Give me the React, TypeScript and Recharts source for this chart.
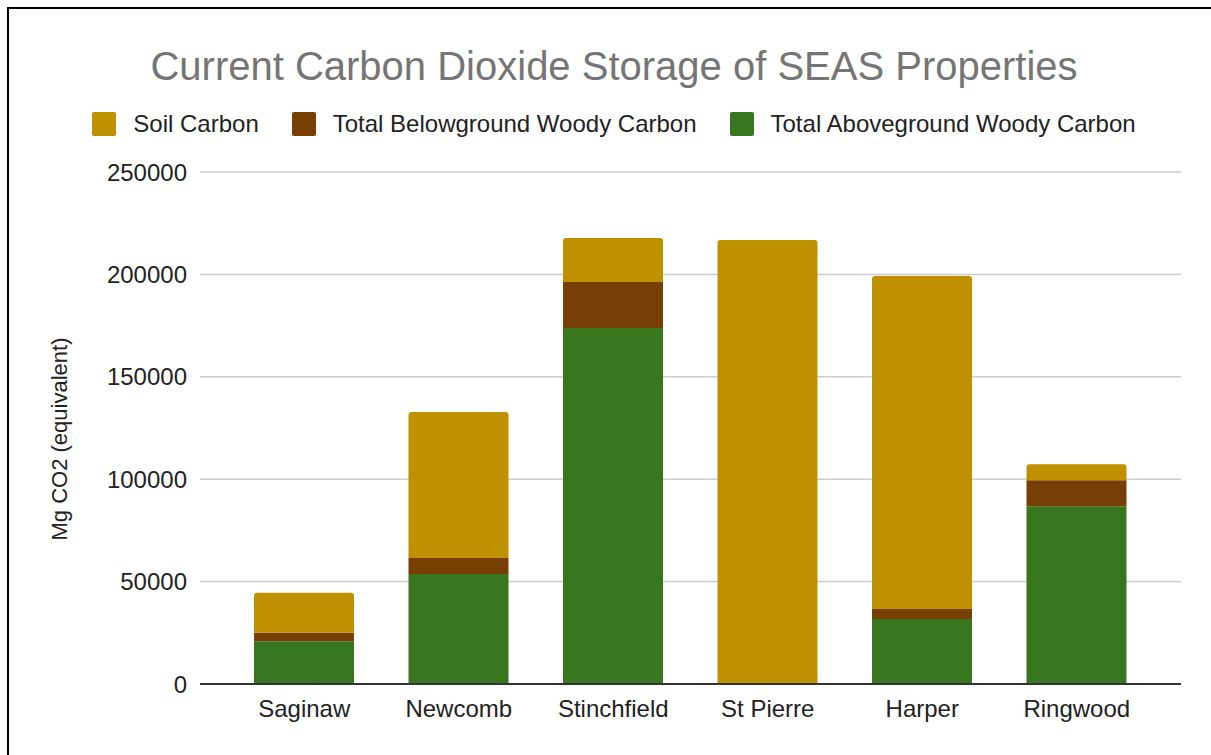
import React from "react";
import { BarChart, Bar, XAxis, YAxis, CartesianGrid, Label } from "recharts";

const properties = ["Saginaw", "Newcomb", "Stinchfield", "St Pierre", "Harper", "Ringwood"];
const aboveground = [20900, 53700, 173800, 0, 31700, 86800];
const belowground = [4100, 7800, 22500, 0, 4900, 12700];
const soil = [19600, 71300, 21500, 216800, 162600, 7800];
const yTicks = [0, 50000, 100000, 150000, 200000, 250000];

const FONT = "'Liberation Sans', Arial, sans-serif";

// legend order differs from stacking order, so list it separately
const legendItems = [
  { name: "Soil Carbon", color: "#bf9000" },
  { name: "Total Belowground Woody Carbon", color: "#783f04" },
  { name: "Total Aboveground Woody Carbon", color: "#38761d" },
];

const data = properties.map((p, i) => ({
  name: p,
  above: aboveground[i],
  below: belowground[i],
  soil: soil[i],
}));

function YLabel(props: any) {
  const vb = props.viewBox || {};
  const x = 50;
  const y = vb.y + vb.height / 2 + 11;
  return (
    <text
      x={x}
      y={y}
      transform={`rotate(-90 ${x} ${y})`}
      textAnchor="middle"
      dominantBaseline="central"
      fill="#222"
      fontSize={22}
      fontFamily={FONT}
    >
      Mg CO2 (equivalent)
    </text>
  );
}

export default function App() {
  return (
    <div
      style={{
        position: "absolute",
        left: 7,
        top: 7,
        width: 1204,
        height: 748,
        boxSizing: "border-box",
        borderTop: "2px solid #000",
        borderLeft: "2px solid #000",
        overflow: "hidden",
        fontFamily: FONT,
        background: "#fff",
      }}
    >
      <div
        style={{
          position: "absolute",
          left: 0,
          width: 1210,
          top: 34,
          textAlign: "center",
          fontSize: 40,
          color: "#757575",
          lineHeight: "46px",
        }}
      >
        Current Carbon Dioxide Storage of SEAS Properties
      </div>
      <div
        style={{
          position: "absolute",
          left: 0,
          width: 1210,
          top: 103,
          height: 24,
          display: "flex",
          justifyContent: "center",
          alignItems: "center",
          fontSize: 24,
          color: "#222",
        }}
      >
        {legendItems.map((it, i) => (
          <div key={it.name} style={{ display: "flex", alignItems: "center", marginLeft: i === 0 ? 0 : 33 }}>
            <span style={{ width: 24, height: 24, borderRadius: 2, background: it.color, display: "inline-block", marginRight: 17 }} />
            <span>{it.name}</span>
          </div>
        ))}
      </div>
      <div style={{ position: "absolute", left: 0, top: 0 }}>
        <BarChart
          width={1202}
          height={746}
          data={data}
          margin={{ top: 163, right: 30, bottom: 41, left: 91 }}
          barSize={100}
        >
          <CartesianGrid vertical={false} stroke="#cccccc" strokeWidth={1.5} />
          <XAxis
            dataKey="name"
            height={30}
            padding={{ left: 27, right: 27 }}
            tickLine={false}
            axisLine={{ stroke: "#333", strokeWidth: 2 }}
            tickMargin={10}
            tick={{ fill: "#222", fontSize: 24, fontFamily: FONT }}
          />
          <YAxis
            width={100}
            domain={[0, 250000]}
            ticks={yTicks}
            axisLine={false}
            tickLine={false}
            tickMargin={7}
            tick={{ fill: "#222", fontSize: 24, fontFamily: FONT }}
          >
            <Label content={<YLabel />} />
          </YAxis>
          <Bar dataKey="above" stackId="a" fill="#38761d" isAnimationActive={false} />
          <Bar dataKey="below" stackId="a" fill="#783f04" isAnimationActive={false} />
          <Bar dataKey="soil" stackId="a" fill="#bf9000" radius={[3, 3, 0, 0]} isAnimationActive={false} />
        </BarChart>
      </div>
    </div>
  );
}
